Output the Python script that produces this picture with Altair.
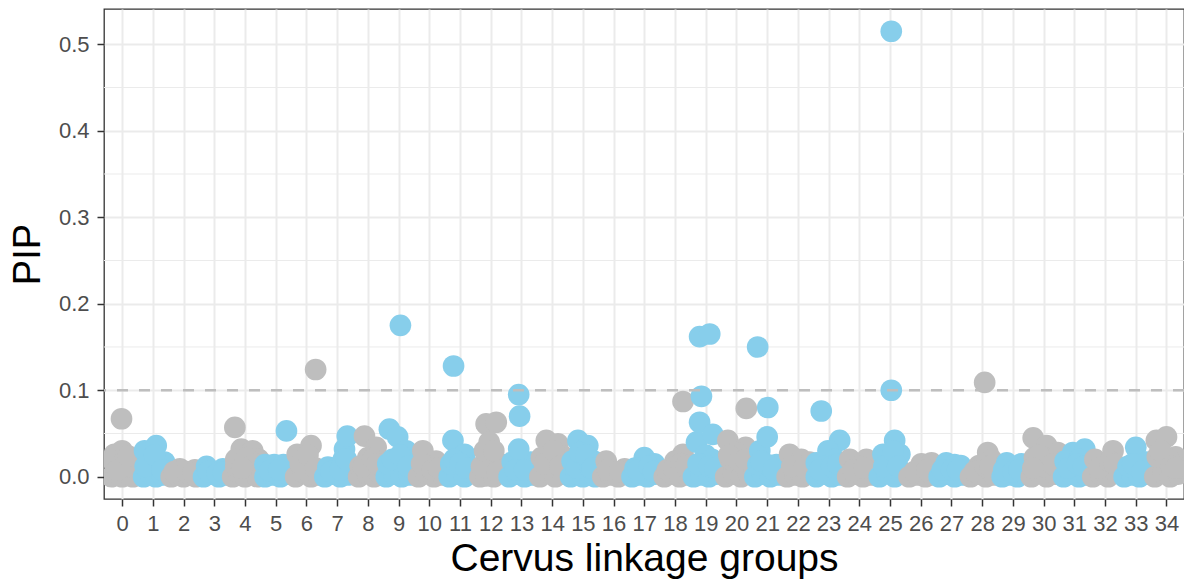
import altair as alt
import pandas as pd

# Tick labels / axis values
lg_ticks = list(range(35))
y_ticks = [0.0, 0.1, 0.2, 0.3, 0.4, 0.5]
y_minor = [0.05, 0.15, 0.25, 0.35, 0.45]
threshold = [0.1]

# Jitter offsets (within each linkage group)
offset_by_lg = [
    [-0.35, -0.2, 0.0, 0.2, 0.35, -0.25, 0.0, 0.35, -0.1, 0.2, -0.3, 0.05, 0.3, -0.15, 0.2, -0.02],
    [-0.3, -0.1, 0.1, 0.3, -0.27, 0.11, 0.38, 0.0, 0.25, -0.25, 0.05, 0.3],
    [-0.4, -0.2, 0.0, 0.2, 0.4, -0.12, 0.37, -0.3, 0.1, 0.3],
    [-0.35, -0.1, 0.15, 0.38, -0.25, 0.28, -0.2, 0.1, 0.3],
    [-0.4, -0.2, 0.0, 0.2, 0.4, -0.12, 0.25, 0.45, 0.0, -0.3, -0.3, 0.05, 0.3, -0.1, -0.33],
    [-0.35, -0.1, 0.15, 0.38, -0.35, -0.05, 0.25, -0.2, 0.1, 0.35],
    [-0.35, -0.1, 0.15, 0.35, -0.3, 0.15, 0.0, -0.2, 0.05, 0.3, 0.3],
    [-0.4, -0.15, 0.1, 0.35, -0.3, 0.0, 0.3, 0.24, 0.33, 0.2, -0.2, 0.1, 0.3],
    [-0.3, -0.05, 0.2, 0.35, -0.11, 0.27, 0.0, -0.25, -0.15, 0.15, 0.3],
    [-0.4, -0.15, 0.1, 0.35, -0.3, -0.03, 0.25, -0.35, 0.1, -0.2, 0.05, 0.3, 0.06],
    [-0.35, -0.1, 0.15, 0.4, -0.21, 0.22, 0.0, -0.25, 0.1, 0.3],
    [-0.35, -0.1, 0.15, 0.38, -0.23, 0.15, -0.3, 0.3, -0.2, 0.0, 0.2, -0.21],
    [-0.35, -0.15, 0.1, 0.35, -0.15, 0.18, -0.05, 0.0, -0.3, 0.3, -0.2, 0.1, 0.2],
    [-0.4, -0.15, 0.1, 0.38, -0.3, 0.3, 0.0, -0.09, -0.2, 0.1, -0.06, -0.09],
    [-0.4, -0.15, 0.1, 0.35, -0.19, 0.19, -0.35, 0.35, 0.0, -0.25, 0.05, 0.25],
    [-0.4, -0.2, 0.0, 0.2, 0.4, -0.16, 0.16, -0.35, 0.35, 0.0, -0.2, 0.25, -0.1, 0.1, 0.3],
    [-0.35, -0.1, 0.15, 0.38, -0.24, 0.36, -0.2, 0.2],
    [-0.4, -0.15, 0.1, 0.35, 0.0, 0.33, -0.3, -0.2, 0.15, 0.3],
    [-0.35, -0.1, 0.15, 0.38, 0.26, 0.0, -0.25, -0.05, 0.2, 0.35, 0.26],
    [-0.4, -0.15, 0.1, 0.35, -0.3, -0.2, 0.23, -0.14, 0.0, 0.2, -0.25, 0.1, 0.3, -0.2, 0.13],
    [-0.35, -0.1, 0.15, 0.38, -0.28, 0.3, 0.0, -0.2, 0.2, -0.25, 0.1, 0.3, 0.32],
    [-0.4, -0.15, 0.1, 0.38, -0.3, 0.3, 0.0, -0.24, 0.0, -0.2, 0.2, 0.02, -0.31],
    [-0.35, -0.1, 0.15, 0.38, -0.27, 0.11, 0.38, -0.2, 0.2],
    [-0.4, -0.15, 0.1, 0.35, -0.4, 0.36, -0.02, 0.2, -0.15, -0.3, 0.1, 0.3, -0.24],
    [-0.38, -0.12, 0.12, 0.38, -0.31, 0.23, 0.0, -0.2, 0.15],
    [-0.35, -0.1, 0.15, 0.38, -0.23, 0.32, 0.15, 0.0, -0.2, 0.1, 0.25, 0.04, 0.04],
    [-0.38, -0.1, 0.15, 0.38, 0.02, 0.35, -0.2, 0.2],
    [-0.4, -0.15, 0.1, 0.38, -0.17, 0.1, 0.3, -0.3, 0.0, 0.2],
    [-0.38, -0.12, 0.12, 0.38, 0.18, -0.1, 0.3, -0.25, 0.1, 0.25, 0.08],
    [-0.35, -0.1, 0.15, 0.38, -0.2, 0.28, -0.3, 0.0, 0.2],
    [-0.4, -0.15, 0.1, 0.38, -0.34, 0.1, 0.46, -0.3, 0.2, 0.0, -0.15, 0.3, -0.35],
    [-0.35, -0.1, 0.15, 0.38, -0.05, 0.34, -0.3, 0.15, -0.2, 0.1, 0.3],
    [-0.4, -0.15, 0.1, 0.38, 0.26, -0.33, 0.0, -0.2, 0.15, 0.3],
    [-0.38, -0.12, 0.12, 0.35, 0.0, 0.35, -0.25, -0.1, 0.2],
    [-0.38, -0.12, 0.12, 0.38, -0.33, 0.0, -0.3, 0.3, 0.1, 0.45, -0.2, 0.15, 0.3],
]

# PIP values per linkage group
pip_by_lg = [
    [0.0, 0.005, 0.0, 0.003, 0.0, 0.026, 0.03, 0.02, 0.015, 0.012, 0.018, 0.018, 0.012, 0.008, 0.024, 0.067],
    [0.0, 0.004, 0.0, 0.002, 0.03, 0.036, 0.017, 0.018, 0.01, 0.012, 0.025, 0.008],
    [0.0, 0.002, 0.0, 0.003, 0.0, 0.009, 0.008, 0.006, 0.006, 0.004],
    [0.0, 0.003, 0.0, 0.002, 0.012, 0.009, 0.006, 0.004, 0.005],
    [0.0, 0.004, 0.0, 0.005, 0.0, 0.032, 0.03, 0.02, 0.015, 0.012, 0.02, 0.022, 0.015, 0.01, 0.057],
    [0.0, 0.002, 0.0, 0.003, 0.014, 0.014, 0.014, 0.007, 0.008, 0.053],
    [0.0, 0.005, 0.0, 0.002, 0.026, 0.036, 0.018, 0.015, 0.025, 0.01, 0.124],
    [0.0, 0.003, 0.0, 0.002, 0.011, 0.011, 0.011, 0.032, 0.047, 0.02, 0.006, 0.008, 0.02],
    [0.0, 0.004, 0.0, 0.005, 0.047, 0.034, 0.022, 0.012, 0.012, 0.02, 0.015],
    [0.0, 0.003, 0.0, 0.002, 0.055, 0.046, 0.03, 0.015, 0.016, 0.02, 0.025, 0.012, 0.175],
    [0.0, 0.004, 0.0, 0.002, 0.03, 0.018, 0.012, 0.015, 0.008, 0.01],
    [0.0, 0.003, 0.0, 0.004, 0.042, 0.026, 0.015, 0.012, 0.02, 0.015, 0.01, 0.128],
    [0.0, 0.001, 0.0, 0.004, 0.061, 0.063, 0.04, 0.02, 0.012, 0.015, 0.03, 0.03, 0.005],
    [0.0, 0.003, 0.0, 0.002, 0.017, 0.017, 0.014, 0.032, 0.008, 0.008, 0.070, 0.095],
    [0.0, 0.005, 0.0, 0.003, 0.042, 0.038, 0.022, 0.024, 0.02, 0.015, 0.03, 0.012],
    [0.0, 0.003, 0.0, 0.004, 0.0, 0.042, 0.036, 0.018, 0.018, 0.02, 0.01, 0.01, 0.028, 0.025, 0.01],
    [0.0, 0.002, 0.0, 0.003, 0.018, 0.009, 0.008, 0.006],
    [0.0, 0.002, 0.0, 0.003, 0.022, 0.015, 0.01, 0.008, 0.012, 0.006],
    [0.0, 0.003, 0.0, 0.002, 0.026, 0.018, 0.008, 0.01, 0.015, 0.012, 0.087],
    [0.0, 0.002, 0.0, 0.003, 0.04, 0.063, 0.049, 0.093, 0.025, 0.02, 0.015, 0.012, 0.01, 0.162, 0.165],
    [0.0, 0.003, 0.0, 0.004, 0.042, 0.034, 0.028, 0.02, 0.015, 0.025, 0.018, 0.02, 0.079],
    [0.0, 0.003, 0.0, 0.002, 0.014, 0.014, 0.014, 0.03, 0.046, 0.018, 0.008, 0.08, 0.15],
    [0.0, 0.002, 0.0, 0.003, 0.026, 0.02, 0.017, 0.012, 0.01],
    [0.0, 0.003, 0.0, 0.002, 0.016, 0.042, 0.03, 0.02, 0.012, 0.008, 0.012, 0.015, 0.076],
    [0.0, 0.003, 0.0, 0.002, 0.02, 0.02, 0.012, 0.008, 0.01],
    [0.0, 0.004, 0.0, 0.003, 0.026, 0.026, 0.042, 0.018, 0.012, 0.03, 0.012, 0.1, 0.515],
    [0.0, 0.002, 0.0, 0.002, 0.015, 0.016, 0.006, 0.008],
    [0.0, 0.003, 0.0, 0.002, 0.016, 0.014, 0.013, 0.008, 0.008, 0.008],
    [0.0, 0.003, 0.0, 0.002, 0.028, 0.013, 0.02, 0.006, 0.012, 0.012, 0.109],
    [0.0, 0.002, 0.0, 0.003, 0.016, 0.015, 0.008, 0.006, 0.008],
    [0.0, 0.004, 0.0, 0.003, 0.045, 0.036, 0.028, 0.022, 0.02, 0.012, 0.025, 0.015, 0.01],
    [0.0, 0.003, 0.0, 0.002, 0.028, 0.032, 0.018, 0.02, 0.01, 0.015, 0.012],
    [0.0, 0.003, 0.0, 0.004, 0.03, 0.02, 0.015, 0.01, 0.018, 0.015],
    [0.0, 0.002, 0.0, 0.003, 0.034, 0.017, 0.012, 0.015, 0.006],
    [0.0, 0.004, 0.0, 0.003, 0.042, 0.046, 0.023, 0.023, 0.02, 0.01, 0.03, 0.012, 0.01],
]

rows = []
for g, (offs, pips) in enumerate(zip(offset_by_lg, pip_by_lg)):
    for o, p in zip(offs, pips):
        rows.append({"lg": g, "pos": g + o, "PIP": p,
                     "band": "odd" if g % 2 else "even"})
points = pd.DataFrame(rows)

FONT = "Liberation Sans"
x_scale = alt.Scale(domain=[-0.59, 34.57], nice=False, zero=False)
y_scale = alt.Scale(domain=[-0.02575, 0.54075], nice=False, zero=False)

y_axis = alt.Axis(values=y_ticks, format=".1f", title="PIP",
                  grid=True, gridColor="#EBEBEB", gridWidth=2,
                  domain=False, tickColor="#333333", tickSize=7, tickWidth=1.5,
                  labelFont=FONT, labelFontSize=22, labelColor="#4D4D4D",
                  labelPadding=8, labelFlush=False,
                  titleFont=FONT, titleFontSize=38, titleFontWeight="normal",
                  titleColor="#000000", titleBaseline="alphabetic",
                  titleAngle=270, titleAlign="center",
                  titleX=-65, titleY=245)

x_axis = alt.Axis(values=lg_ticks, format="d", title="Cervus linkage groups",
                  grid=True, gridColor="#EBEBEB", gridWidth=2,
                  domain=False, tickColor="#333333", tickSize=7, tickWidth=1.5,
                  labelFont=FONT, labelFontSize=22, labelColor="#4D4D4D",
                  labelPadding=7, labelOverlap=False, labelFlush=False,
                  titleFont=FONT, titleFontSize=39, titleFontWeight="normal",
                  titleColor="#000000", titleBaseline="alphabetic",
                  titleX=540, titleY=71)

minor = alt.Chart(pd.DataFrame({"v": y_minor})).mark_rule(
    color="#EBEBEB", strokeWidth=1
).encode(y=alt.Y("v:Q", scale=y_scale, axis=y_axis))

dots = alt.Chart(points).mark_circle(size=470, opacity=1, clip=True).encode(
    x=alt.X("pos:Q", scale=x_scale, axis=x_axis),
    y=alt.Y("PIP:Q", scale=y_scale, axis=y_axis),
    color=alt.Color("band:N",
                    scale=alt.Scale(domain=["even", "odd"], range=["#BEBEBE", "#87CEEB"]),
                    legend=None),
    order=alt.Order("lg:Q"),
)

hline = alt.Chart(pd.DataFrame({"t": threshold})).mark_rule(
    color="#BEBEBE", strokeDash=[11, 11], strokeWidth=2.4
).encode(y=alt.Y("t:Q", scale=y_scale, axis=y_axis))

chart = alt.layer(minor, dots, hline).properties(
    width=1080, height=490,
    autosize=alt.AutoSizeParams(type="none"),
    padding={"left": 104, "top": 9, "right": 0, "bottom": 84},
    background="#FFFFFF",
).configure_view(stroke="#333333", strokeWidth=1.3)

chart.save("out.html", embed_options={"renderer": "svg", "actions": False})
